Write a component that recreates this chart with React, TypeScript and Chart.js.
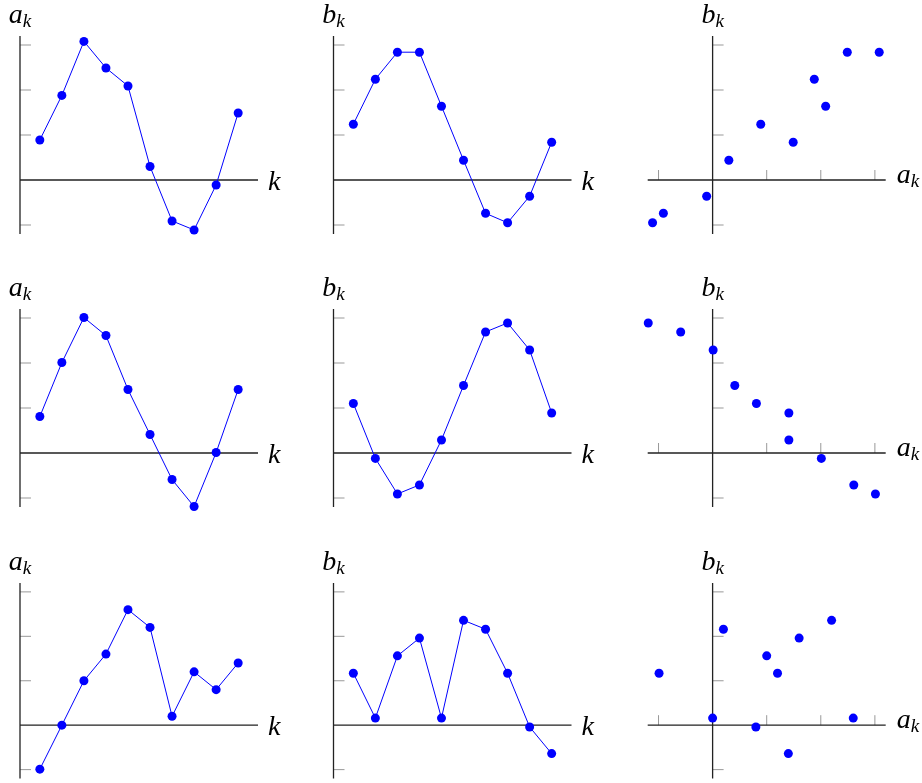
import React, { useEffect, useRef, useState } from "react";
import { Chart, registerables } from "chart.js";

Chart.register(...registerables);

// ---- data ----
const K = [1, 2, 3, 4, 5, 6, 7, 8, 9, 10];

const A1 = [0.89, 1.88, 3.08, 2.49, 2.09, 0.3, -0.91, -1.11, -0.11, 1.49];
const B1 = [1.24, 2.24, 2.84, 2.84, 1.64, 0.44, -0.74, -0.95, -0.36, 0.84];

const A2 = [0.81, 2.01, 3.01, 2.61, 1.41, 0.41, -0.59, -1.19, 0.01, 1.41];
const B2 = [1.1, -0.12, -0.91, -0.71, 0.29, 1.5, 2.69, 2.89, 2.29, 0.89];

const A3 = [-0.99, 0.0, 1.0, 1.6, 2.6, 2.2, 0.2, 1.2, 0.8, 1.4];
const B3 = [1.17, 0.16, 1.56, 1.96, 0.16, 2.36, 2.16, 1.17, -0.04, -0.64];

const Y_TICKS = [-1, 1, 2, 3];
const SCATTER_X_TICKS = [-1, 1, 2, 3];

const K_RANGE = [0.1, 10.9];
const VAL_RANGE = [-1.2, 3.2];

// ---- style / layout ----
const BLUE = "#0000ff";
const AXIS_COLOR = "#222222";
const TICK_COLOR = "#999999";
const LABEL_FONT = '"Liberation Serif", "Times New Roman", serif';

const COL_LEFT = [0, 310, 620];
const COL_WIDTH = [300, 300, 302];
const ROW_TOP = [0, 273, 547];
const ROW_HEIGHT = [260, 260, 236];
const AREA_X = [
  [20, 258],
  [333.5, 571.5],
  [647.7, 885.7],
];
const AREA_Y = [
  [36, 234],
  [309, 507],
  [583, 781],
];

const axesPlugin = {
  id: "pgfAxes",
  beforeDatasetsDraw(chart: any, _args: any, opts: any) {
    const { ctx, chartArea } = chart;
    const xs = chart.scales.x;
    const ys = chart.scales.y;
    const y0 = ys.getPixelForValue(0);
    const xAxis = opts.scatter ? xs.getPixelForValue(0) : chartArea.left;
    ctx.save();
    ctx.strokeStyle = TICK_COLOR;
    ctx.lineWidth = 1;
    ctx.beginPath();
    for (const t of Y_TICKS) {
      const py = ys.getPixelForValue(t);
      ctx.moveTo(xAxis, py);
      ctx.lineTo(xAxis + 11, py);
    }
    if (opts.scatter) {
      for (const t of SCATTER_X_TICKS) {
        const px = xs.getPixelForValue(t);
        ctx.moveTo(px, y0);
        ctx.lineTo(px, y0 - 10);
      }
    }
    ctx.stroke();
    ctx.strokeStyle = AXIS_COLOR;
    ctx.lineWidth = 1.3;
    ctx.beginPath();
    ctx.moveTo(chartArea.left, y0);
    ctx.lineTo(chartArea.right, y0);
    ctx.moveTo(xAxis, chartArea.top);
    ctx.lineTo(xAxis, chartArea.bottom);
    ctx.stroke();
    ctx.restore();
  },
};

type PanelCfg = {
  row: number;
  col: number;
  scatter: boolean;
  xs: number[];
  ys: number[];
  yMain: string;
  ySub: string;
  xMain: string;
  xSub: string;
};

type LabelPos = { yx: number; yy: number; xx: number; xy: number };

function Label({ x, y, main, sub, anchor }: { x: number; y: number; main: string; sub: string; anchor: string }) {
  return (
    <text x={x} y={y} textAnchor={anchor} style={{ fontFamily: LABEL_FONT, fontStyle: "italic", fontSize: "28px" }} fill="#000">
      {main}
      {sub ? (
        <tspan style={{ fontSize: "19px" }} dy={4}>
          {sub}
        </tspan>
      ) : null}
    </text>
  );
}

function Panel({ cfg }: { cfg: PanelCfg }) {
  const ref = useRef<HTMLCanvasElement | null>(null);
  const [lab, setLab] = useState<LabelPos | null>(null);
  const left = COL_LEFT[cfg.col];
  const top = ROW_TOP[cfg.row];
  const width = COL_WIDTH[cfg.col];
  const height = ROW_HEIGHT[cfg.row];
  const [ax0, ax1] = AREA_X[cfg.col];
  const [ay0, ay1] = AREA_Y[cfg.row];

  useEffect(() => {
    if (!ref.current) return;
    const points = cfg.xs.map((x, i) => ({ x, y: cfg.ys[i] }));
    const chart = new Chart(ref.current, {
      type: cfg.scatter ? "scatter" : "line",
      data: {
        datasets: [
          {
            data: points,
            borderColor: BLUE,
            backgroundColor: BLUE,
            borderWidth: 1,
            pointRadius: 4.5,
            pointBackgroundColor: BLUE,
            pointBorderWidth: 0,
            pointBorderColor: BLUE,
            tension: 0,
            fill: false,
            showLine: !cfg.scatter,
            clip: false,
          } as any,
        ],
      },
      options: {
        animation: false,
        responsive: false,
        devicePixelRatio: 1,
        events: [],
        layout: {
          padding: {
            left: ax0 - left,
            right: left + width - ax1,
            top: ay0 - top,
            bottom: top + height - ay1,
          },
        },
        plugins: {
          legend: { display: false },
          tooltip: { enabled: false },
          title: { display: false },
          pgfAxes: { scatter: cfg.scatter },
        } as any,
        scales: {
          x: {
            type: "linear",
            min: cfg.scatter ? VAL_RANGE[0] : K_RANGE[0],
            max: cfg.scatter ? VAL_RANGE[1] : K_RANGE[1],
            display: false,
          },
          y: {
            type: "linear",
            min: VAL_RANGE[0],
            max: VAL_RANGE[1],
            display: false,
          },
        },
      },
      plugins: [axesPlugin as any],
    });
    const ca = chart.chartArea;
    const y0 = chart.scales.y.getPixelForValue(0);
    const xAxis = cfg.scatter ? chart.scales.x.getPixelForValue(0) : ca.left;
    setLab({
      yx: xAxis,
      yy: ca.top - 13,
      xx: ca.right + (cfg.scatter ? 11 : 10),
      xy: y0 + (cfg.scatter ? 2.5 : 9.5),
    });
    return () => chart.destroy();
  }, []);

  return (
    <div style={{ position: "absolute", left, top, width, height }}>
      <canvas ref={ref} width={width} height={height} style={{ position: "absolute", left: 0, top: 0, width, height }} />
      {lab && (
        <svg width={width} height={height} style={{ position: "absolute", left: 0, top: 0, overflow: "visible" }}>
          <Label x={lab.yx} y={lab.yy} main={cfg.yMain} sub={cfg.ySub} anchor="middle" />
          <Label x={lab.xx} y={lab.xy} main={cfg.xMain} sub={cfg.xSub} anchor="start" />
        </svg>
      )}
    </div>
  );
}

const ROWS = [
  { a: A1, b: B1 },
  { a: A2, b: B2 },
  { a: A3, b: B3 },
];

export default function App() {
  const panels: PanelCfg[] = [];
  ROWS.forEach((r, row) => {
    panels.push({ row, col: 0, scatter: false, xs: K, ys: r.a, yMain: "a", ySub: "k", xMain: "k", xSub: "" });
    panels.push({ row, col: 1, scatter: false, xs: K, ys: r.b, yMain: "b", ySub: "k", xMain: "k", xSub: "" });
    panels.push({ row, col: 2, scatter: true, xs: r.a, ys: r.b, yMain: "b", ySub: "k", xMain: "a", xSub: "k" });
  });
  return (
    <div style={{ position: "absolute", left: 0, top: 0, width: 922, height: 783, background: "#fff", overflow: "hidden" }}>
      {panels.map((p, i) => (
        <Panel key={i} cfg={p} />
      ))}
    </div>
  );
}
